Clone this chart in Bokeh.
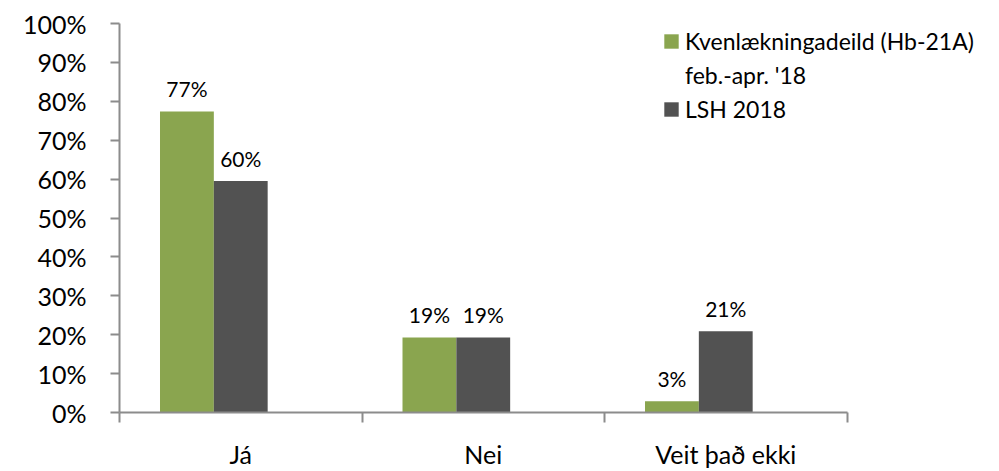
import numpy as np
from bokeh.plotting import figure
from bokeh.models import (Range1d, FixedTicker, ColumnDataSource, LabelSet, Legend, LegendItem)
from bokeh.core.properties import value
from bokeh.embed import file_html
from bokeh.resources import INLINE

categories = ["Já", "Nei", "Veit það ekki"]
series_names = ["Kvenlækningadeild (Hb-21A)", "feb.-apr. '18", "LSH 2018"]
kvenl_values = [77.4, 19.3, 2.9]
lsh_values = [59.5, 19.3, 20.9]
kvenl_labels = ["77%", "19%", "3%"]
lsh_labels = ["60%", "19%", "21%"]
y_ticks = [0, 10, 20, 30, 40, 50, 60, 70, 80, 90, 100]
y_tick_labels = ["0%", "10%", "20%", "30%", "40%", "50%", "60%", "70%", "80%", "90%", "100%"]

FONT = "Lato"
GREEN = "#8aa54f"
DARK = "#525252"
AXIS = "#8c8c8c"

W, H = 999, 471
LEFT, TOP, BOTTOM = 119, 23, 59
AXIS_W = 727.5                      # pixel length of the category axis
FRAME_W = W - LEFT                  # frame extends right so the legend is not clipped

n = len(categories)
centers = np.arange(n) + 0.5
bar_w = 0.222

p = figure(width=W, height=H, output_backend="svg", toolbar_location=None,
           x_range=Range1d(0, n * FRAME_W / AXIS_W), y_range=Range1d(0, 100),
           min_border_left=LEFT, min_border_right=0, min_border_top=TOP, min_border_bottom=BOTTOM)
p.outline_line_color = None
p.grid.visible = False
p.background_fill_color = "white"
p.border_fill_color = "white"

src = ColumnDataSource(dict(
    xg=centers - bar_w,
    xd=centers,
    kv=kvenl_values,
    ls=lsh_values,
    kvl=kvenl_labels,
    lsl=lsh_labels,
))

r1 = p.vbar(x="xg", top="kv", width=bar_w, source=src, fill_color=GREEN, line_color=None)
r2 = p.vbar(x="xd", top="ls", width=bar_w, source=src, fill_color=DARK, line_color=None)
r_blank = p.vbar(x=[], top=[], width=bar_w, fill_alpha=0, line_alpha=0)

# y axis
ya = p.yaxis[0]
ya.ticker = FixedTicker(ticks=y_ticks)
ya.major_label_overrides = {t: l for t, l in zip(y_ticks, y_tick_labels)}
ya.major_label_text_font = FONT
ya.major_label_text_font_size = "25px"
ya.major_label_text_color = "black"
ya.axis_line_color = AXIS
ya.axis_line_width = 2
ya.major_tick_line_color = AXIS
ya.major_tick_line_width = 2
ya.major_tick_out = 9
ya.major_tick_in = 0
ya.minor_tick_line_color = None
ya.major_label_standoff = 24

# x axis: labels at category centres, tick marks at category boundaries
xa = p.xaxis[0]
xa.bounds = (0, n)
xa.ticker = FixedTicker(ticks=list(centers), minor_ticks=list(range(n + 1)))
xa.major_label_overrides = {float(c): cat for c, cat in zip(centers, categories)}
xa.major_label_text_font = FONT
xa.major_label_text_font_size = "25px"
xa.major_label_text_color = "black"
xa.axis_line_color = AXIS
xa.axis_line_width = 2
xa.major_tick_line_color = None
xa.major_tick_out = 0
xa.major_tick_in = 0
xa.minor_tick_line_color = AXIS
xa.minor_tick_line_width = 2
xa.minor_tick_out = 10
xa.minor_tick_in = 0
xa.major_label_standoff = 16

lab1 = LabelSet(x="xg", y="kv", text="kvl", source=src, y_offset=10,
                text_align="center", text_baseline="bottom",
                text_font=value(FONT), text_font_size=value("21px"), text_color="black")
lab2 = LabelSet(x="xd", y="ls", text="lsl", source=src, y_offset=10,
                text_align="center", text_baseline="bottom",
                text_font=value(FONT), text_font_size=value("21px"), text_color="black")
p.add_layout(lab1)
p.add_layout(lab2)

legend = Legend(items=[LegendItem(label=series_names[0], renderers=[r1]),
                       LegendItem(label=series_names[1], renderers=[r_blank]),
                       LegendItem(label=series_names[2], renderers=[r2])],
                location=(543, 289))
legend.label_text_font = FONT
legend.label_text_font_size = "23px"
legend.label_text_color = "black"
legend.glyph_width = 18
legend.glyph_height = 18
legend.label_standoff = 5
legend.padding = 0
legend.margin = 0
legend.spacing = 6
legend.border_line_color = None
legend.background_fill_alpha = 0
p.add_layout(legend)

open("out.html", "w").write(file_html(p, INLINE))
